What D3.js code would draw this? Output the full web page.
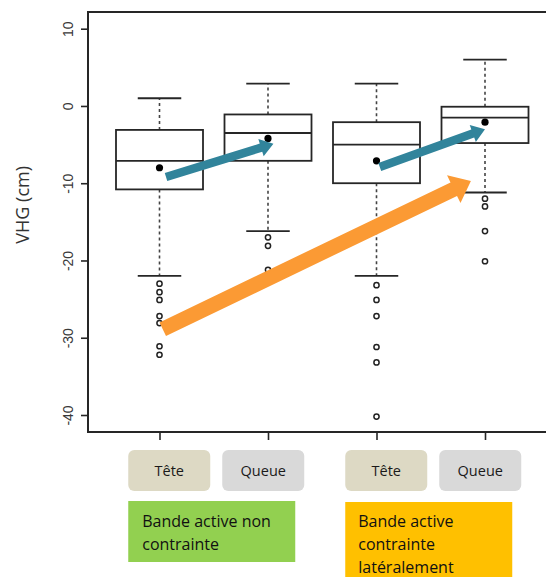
<!DOCTYPE html>
<html>
<head>
<meta charset="utf-8">
<script src="https://cdn.jsdelivr.net/npm/d3@7"></script>
<style>
  html, body { margin: 0; padding: 0; background: #fff; }
  svg { display: block; }
</style>
</head>
<body>
<div id="chart"></div>
<script>
// Boxplot data (cm)
const groups = ['Tête', 'Queue', 'Tête', 'Queue'];
const q1 = [-10.8, -7.1, -10.0, -4.8];
const median = [-7.1, -3.5, -5.0, -1.5];
const q3 = [-3.1, -1.1, -2.1, -0.1];
const whiskerLow = [-22.0, -16.2, -22.0, -11.2];
const whiskerHigh = [1.0, 2.9, 2.9, 6.0];
const means = [-8.0, -4.2, -7.1, -2.1];
const outliers = [
  [-23.0, -24.1, -25.1, -27.2, -28.1, -31.1, -32.2],
  [-17.0, -18.1, -21.2],
  [-23.2, -25.1, -27.2, -31.2, -33.2, -40.2],
  [-12.0, -13.0, -16.2, -20.1]
];
const yTicks = [10, 0, -10, -20, -30, -40];

// Reach groups (one per pair of boxes)
const reaches = ['Bande active non contrainte', 'Bande active contrainte latéralement'];
const reachLines = [['Bande active non', 'contrainte'], ['Bande active', 'contrainte', 'latéralement']];

// Annotation arrows: [group index, value] start -> end
const arrows = [
  { from: [0.06, -9.2], to: [1.05, -4.9], kind: 'teal' },
  { from: [2.03, -7.9], to: [3.0, -3.0], kind: 'teal' },
  { from: [0.03, -28.9], to: [2.87, -9.7], kind: 'orange' }
];

const W = 546, H = 577;
const AXIS_X = 88, TOP = 12, BOTTOM = 432;
const BOX_W = 87;
const COLORS = {
  line: '#262626',
  teal: '#31849b',
  orange: '#fb9a34',
  tete: '#ddd9c4',
  queue: '#d9d9d9',
  green: '#92d050',
  amber: '#ffc000'
};
const ARROW_STYLE = {
  teal: { shaft: 8.5, headW: 18, headL: 13 },
  orange: { shaft: 15, headW: 31, headL: 19 }
};

const svg = d3.select('#chart').append('svg').attr('width', W).attr('height', H);

const x = d3.scaleLinear().domain([0, 3]).range([159.5, 485]);
const y = d3.scaleLinear().domain([10, -40]).range([28.7, 415]);

// ─── FRAME & AXES ───
svg.append('rect')
  .attr('x', AXIS_X).attr('y', TOP)
  .attr('width', W + 20 - AXIS_X).attr('height', BOTTOM - TOP)
  .attr('fill', 'none').attr('stroke', COLORS.line).attr('stroke-width', 2);

const yAxis = svg.append('g')
  .attr('transform', `translate(${AXIS_X},0)`)
  .call(d3.axisLeft(y).tickValues(yTicks).tickSize(7).tickPadding(0).tickFormat(d => String(d)));
yAxis.select('.domain').remove();
yAxis.selectAll('.tick line').attr('stroke', COLORS.line).attr('stroke-width', 1.6);
yAxis.selectAll('.tick text')
  .attr('transform', 'rotate(-90)')
  .attr('x', 0).attr('y', -15)
  .attr('dy', 0)
  .attr('text-anchor', 'middle')
  .attr('font-family', 'Liberation Sans, Arial, sans-serif')
  .attr('font-size', 14)
  .attr('fill', '#3a3a3a');

const xAxis = svg.append('g')
  .attr('transform', `translate(0,${BOTTOM})`)
  .call(d3.axisBottom(x).tickValues(d3.range(groups.length)).tickSize(8).tickFormat(''));
xAxis.select('.domain').remove();
xAxis.selectAll('.tick line').attr('stroke', COLORS.line).attr('stroke-width', 1.6);

svg.append('text')
  .attr('transform', `translate(29,${y(-12.8)}) rotate(-90)`)
  .attr('text-anchor', 'middle')
  .attr('font-family', 'Open Sans, sans-serif')
  .attr('font-size', 18)
  .attr('fill', '#333')
  .text('VHG (cm)');

// ─── BOXPLOTS ───
const plot = svg.append('g');
groups.forEach((g, i) => {
  const cx = x(i);
  const bg = plot.append('g');
  // whiskers
  [[q3[i], whiskerHigh[i]], [q1[i], whiskerLow[i]]].forEach(([a, b]) => {
    bg.append('line')
      .attr('x1', cx).attr('x2', cx).attr('y1', y(a)).attr('y2', y(b))
      .attr('stroke', '#444').attr('stroke-width', 1.6).attr('stroke-dasharray', '3,3');
    bg.append('line')
      .attr('x1', cx - BOX_W / 4).attr('x2', cx + BOX_W / 4).attr('y1', y(b)).attr('y2', y(b))
      .attr('stroke', COLORS.line).attr('stroke-width', 1.8);
  });
  // box
  bg.append('rect')
    .attr('x', cx - BOX_W / 2).attr('width', BOX_W)
    .attr('y', y(q3[i])).attr('height', y(q1[i]) - y(q3[i]))
    .attr('fill', '#fff').attr('stroke', COLORS.line).attr('stroke-width', 1.8);
  bg.append('line')
    .attr('x1', cx - BOX_W / 2).attr('x2', cx + BOX_W / 2)
    .attr('y1', y(median[i])).attr('y2', y(median[i]))
    .attr('stroke', COLORS.line).attr('stroke-width', 1.8);
  // outliers
  bg.selectAll('.outlier').data(outliers[i]).enter()
    .append('circle').attr('class', 'outlier')
    .attr('cx', cx).attr('cy', d => y(d)).attr('r', 2.6)
    .attr('fill', 'none').attr('stroke', '#222').attr('stroke-width', 1.5);
  // mean
  bg.append('circle')
    .attr('cx', cx).attr('cy', y(means[i])).attr('r', 3.6).attr('fill', '#000');
});

// ─── ARROWS ───
const arrowPath = (x0, y0, x1, y1, s) => {
  const dx = x1 - x0, dy = y1 - y0;
  const len = Math.hypot(dx, dy);
  const ux = dx / len, uy = dy / len;
  const px = -uy, py = ux;
  const bx = x1 - ux * s.headL, by = y1 - uy * s.headL;
  const pts = [
    [x0 + px * s.shaft / 2, y0 + py * s.shaft / 2],
    [bx + px * s.shaft / 2, by + py * s.shaft / 2],
    [bx + px * s.headW / 2, by + py * s.headW / 2],
    [x1, y1],
    [bx - px * s.headW / 2, by - py * s.headW / 2],
    [bx - px * s.shaft / 2, by - py * s.shaft / 2],
    [x0 - px * s.shaft / 2, y0 - py * s.shaft / 2]
  ];
  return 'M' + pts.map(p => p.join(',')).join('L') + 'Z';
};

arrows.forEach(a => {
  svg.append('path')
    .attr('d', arrowPath(x(a.from[0]), y(a.from[1]), x(a.to[0]), y(a.to[1]), ARROW_STYLE[a.kind]))
    .attr('fill', COLORS[a.kind]);
});

// ─── CATEGORY LABELS ───
const LABEL_W = 82, LABEL_H = 41, LABEL_TOP = 450, LABEL_HALF_GAP = 47;
const labelsG = svg.append('g').attr('font-family', 'Open Sans, sans-serif');
reaches.forEach((r, k) => {
  const pairCenter = (x(2 * k) + x(2 * k + 1)) / 2 + 2.5;
  const lefts = [pairCenter - LABEL_HALF_GAP - LABEL_W / 2, pairCenter + LABEL_HALF_GAP - LABEL_W / 2];
  [2 * k, 2 * k + 1].forEach((gi, j) => {
    labelsG.append('rect')
      .attr('x', lefts[j]).attr('y', LABEL_TOP)
      .attr('width', LABEL_W).attr('height', LABEL_H)
      .attr('rx', 6).attr('ry', 6)
      .attr('fill', groups[gi] === 'Tête' ? COLORS.tete : COLORS.queue);
    labelsG.append('text')
      .attr('x', lefts[j] + LABEL_W / 2).attr('y', LABEL_TOP + 26)
      .attr('text-anchor', 'middle')
      .attr('font-size', 14.5).attr('fill', '#1a1a1a')
      .text(groups[gi]);
  });
  // reach box
  const bx = lefts[0];
  labelsG.append('rect')
    .attr('x', bx).attr('y', 501 + k)
    .attr('width', 167).attr('height', k === 0 ? 61 : 90)
    .attr('fill', k === 0 ? COLORS.green : COLORS.amber);
  reachLines[k].forEach((t, li) => {
    labelsG.append('text')
      .attr('x', bx + (k === 0 ? 14 : 13)).attr('y', 527 + li * 23)
      .attr('font-size', 16).attr('fill', '#111')
      .text(t);
  });
});
</script>
</body>
</html>
